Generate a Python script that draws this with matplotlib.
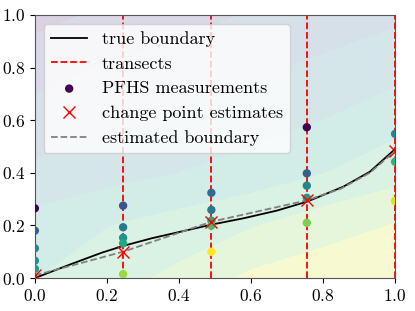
import matplotlib
matplotlib.use("Agg")
import matplotlib.pyplot as plt
from matplotlib.colors import ListedColormap
import numpy as np

plt.rcParams['font.family'] = 'serif'
plt.rcParams['font.serif'] = ['cmr10']
plt.rcParams['mathtext.fontset'] = 'cm'
plt.rcParams['axes.formatter.use_mathtext'] = True

# transect positions and measurements (depth y, colour value 0=purple..1=yellow)
transects = [0.0, 0.245, 0.49, 0.755, 1.0]
meas_x = [0.0, 0.0, 0.0, 0.0, 0.0,
          0.245, 0.245, 0.245, 0.245, 0.245,
          0.49, 0.49, 0.49, 0.49, 0.49,
          0.755, 0.755, 0.755, 0.755, 0.755,
          1.0, 1.0, 1.0]
meas_y = [0.265, 0.18, 0.113, 0.066, 0.035,
          0.275, 0.193, 0.153, 0.132, 0.015,
          0.324, 0.259, 0.218, 0.199, 0.10,
          0.573, 0.398, 0.351, 0.305, 0.21,
          0.548, 0.442, 0.293]
pfhs = [0.0, 0.3, 0.45, 0.5, 0.55,
        0.25, 0.4, 0.5, 0.6, 0.85,
        0.35, 0.4, 0.6, 0.7, 1.0,
        0.0, 0.3, 0.45, 0.55, 0.8,
        0.45, 0.65, 0.95]

# change points found on each transect
cp_y = [0.01, 0.10, 0.214, 0.295, 0.483]

# true boundary
true_x = [0, 0.093, 0.185, 0.245, 0.324, 0.417, 0.49, 0.579, 0.671, 0.755, 0.856, 0.93, 1.0]
true_y = [0, 0.049, 0.096, 0.122, 0.151, 0.18, 0.203, 0.227, 0.256, 0.29, 0.347, 0.404, 0.49]

# estimated boundary
est_x = [0.0, 0.245, 0.49, 0.755, 0.85, 0.93, 1.0]
est_y = [0.01, 0.10, 0.214, 0.295, 0.34, 0.40, 0.483]

# background field on a coarse grid
grid_x = [0, 0.2, 0.4, 0.6, 0.8, 1.0]
grid_y = [0, 0.2, 0.4, 0.6, 0.8, 1.0]
field = [[0.62, 0.70, 0.78, 0.90, 0.95, 0.97],
         [0.55, 0.62, 0.68, 0.74, 0.82, 0.88],
         [0.40, 0.45, 0.50, 0.55, 0.62, 0.70],
         [0.30, 0.35, 0.40, 0.45, 0.50, 0.58],
         [0.20, 0.26, 0.30, 0.35, 0.40, 0.45],
         [0.08, 0.15, 0.20, 0.26, 0.30, 0.35]]

# pale version of viridis (same as alpha 0.2 over white, but without seams)
base = plt.get_cmap('viridis')(np.linspace(0, 1, 256))
pale = base.copy()
pale[:, :3] = 0.2 * base[:, :3] + 0.8
pale_cmap = ListedColormap(pale)

fig = plt.figure(figsize=(4.15, 3.11), dpi=100)
ax = fig.add_axes([0.084, 0.106, 0.868, 0.846])

ax.contourf(grid_x, grid_y, field, levels=np.linspace(0, 1, 9), cmap=pale_cmap)

ax.plot(true_x, true_y, color='black', lw=1.3, label='true boundary')
for i, t in enumerate(transects):
    ax.axvline(t, color='red', ls='--', lw=1.3, label='transects' if i == 0 else None)
ax.scatter(meas_x, meas_y, c=pfhs, cmap='viridis', vmin=0, vmax=1, s=25, zorder=3,
           label='PFHS measurements')
ax.plot(transects, cp_y, 'x', color='red', ms=8, mew=1.0, zorder=4,
        label='change point estimates')
ax.plot(est_x, est_y, ls='--', color='grey', lw=1.3, label='estimated boundary')

ax.set_xlim(0, 1)
ax.set_ylim(0, 1)
ax.tick_params(labelsize=12.5)
for s in ax.spines.values():
    s.set_color('#555555')
ax.legend(loc='upper left', fontsize=13, framealpha=0.8)

fig.savefig('out.png', dpi=100)
